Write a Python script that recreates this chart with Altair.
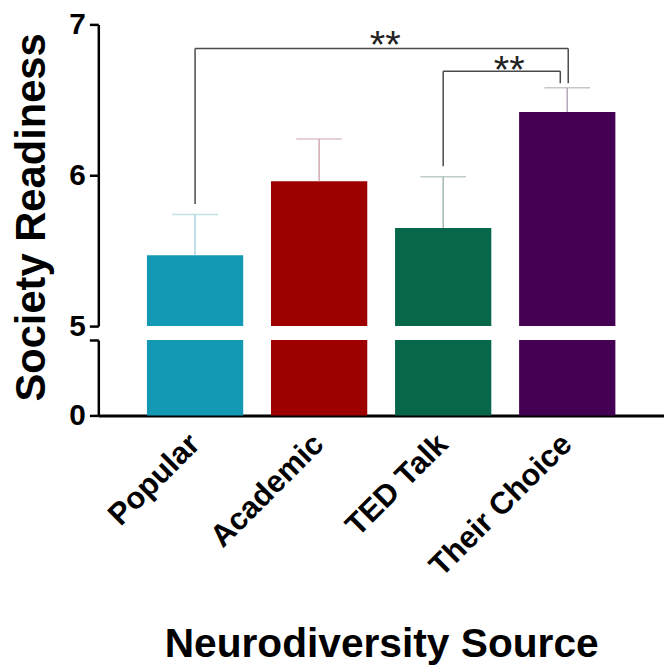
import altair as alt
import pandas as pd

# ---- data ----
categories = ["Popular", "Academic", "TED Talk", "Their Choice"]
means = [5.47, 5.96, 5.65, 6.42]
err_tops = [5.74, 6.24, 5.99, 6.58]
bar_colors = ["#1499b4", "#9e0000", "#07674a", "#440052"]
err_colors = ["#a8d6dd", "#cfaab0", "#a3b8b0", "#b5a9b8"]
top_ticks = [5, 6, 7]
bottom_ticks = [0, 5]

# significance brackets
br_left = ["Popular", "TED Talk"]
br_right = ["Their Choice", "Their Choice"]
br_left_bottom = [5.81, 6.06]
br_top = [6.84, 6.69]
br_right_bottom = [6.61, 6.61]
br_right_shift = [1, -7]
star_label = ["**", "**"]
star_anchor = ["Academic", "TED Talk"]
star_y = [6.78, 6.61]

FONT = "Liberation Sans"
W = 570
H_TOP = 304
H_BOT = 76

df = pd.DataFrame({
    "source": categories,
    "mean": means,
    "err": err_tops,
    "ecol": err_colors,
})

xscale = alt.Scale(domain=categories, paddingInner=0.224, paddingOuter=0.392)
color = alt.Color("source:N", scale=alt.Scale(domain=categories, range=bar_colors), legend=None)

# ---------------- upper segment (5 - 7) ----------------
ytop = alt.Scale(domain=[5, 7], nice=False, zero=False)
yaxis_top = alt.Axis(
    values=top_ticks, labelExpr="'' + round(datum.value)",
    title="Society Readiness", titleFontSize=42, titleFont=FONT,
    titleFontWeight="bold", titleColor="black", titleY=194, titlePadding=16,
    labelFontSize=30, labelFont=FONT, labelFontWeight="bold", labelColor="black",
    labelPadding=4, labelOverlap=False,
    tickSize=9, tickWidth=2.5, tickColor="black",
    domainColor="black", domainWidth=2.5, grid=False,
)
xnone = alt.X("source:N", sort=categories, scale=xscale, axis=None)

base_top = alt.Chart(df)
bars_top = base_top.mark_bar().encode(
    x=xnone,
    y=alt.Y("mean:Q", scale=ytop, axis=yaxis_top),
    y2=alt.datum(5),
    color=color,
)
err_line = base_top.mark_rule(strokeWidth=1.5).encode(
    x=xnone, y=alt.Y("mean:Q"), y2="err:Q",
    color=alt.Color("ecol:N", scale=None),
)
err_cap = base_top.mark_tick(size=46, thickness=1.5).encode(
    x=xnone, y=alt.Y("err:Q"),
    color=alt.Color("ecol:N", scale=None),
)

layers = [bars_top, err_line, err_cap]
for i in range(len(br_left)):
    bdf = pd.DataFrame({
        "l": [br_left[i]], "r": [br_right[i]], "lb": [br_left_bottom[i]],
        "t": [br_top[i]], "rb": [br_right_bottom[i]],
    })
    bb = alt.Chart(bdf)
    sh = br_right_shift[i]
    layers.append(bb.mark_rule(color="#4a4a4a", strokeWidth=1.5).encode(
        x=alt.X("l:N", sort=categories, scale=xscale, axis=None), y="lb:Q", y2="t:Q"))
    layers.append(bb.mark_rule(color="#4a4a4a", strokeWidth=1.5, x2Offset=sh).encode(
        x=alt.X("l:N", sort=categories, scale=xscale, axis=None), x2="r:N", y="t:Q"))
    layers.append(bb.mark_rule(color="#4a4a4a", strokeWidth=1.5, xOffset=sh).encode(
        x=alt.X("r:N", sort=categories, scale=xscale, axis=None), y="rb:Q", y2="t:Q"))

sdf = pd.DataFrame({"anchor": star_anchor, "y": star_y, "label": star_label})
stars = alt.Chart(sdf).mark_text(
    font=FONT, fontSize=40, color="#222222", baseline="alphabetic", align="center", xOffset=18,
).encode(
    x=alt.X("anchor:N", sort=categories, scale=xscale, axis=None, bandPosition=1),
    y="y:Q", text="label:N",
)
layers.append(stars)

upper = alt.layer(*layers).properties(width=W, height=H_TOP)

# ---------------- lower segment (0 - 5) ----------------
ybot = alt.Scale(domain=[0, 5], nice=False, zero=True)
yaxis_bot = alt.Axis(
    values=bottom_ticks, labelExpr="datum.value == 0 ? '0' : ''", title=None,
    labelFontSize=30, labelFont=FONT, labelFontWeight="bold", labelColor="black",
    labelPadding=4, labelOverlap=False,
    tickSize=9, tickWidth=2.5, tickColor="black",
    domainColor="black", domainWidth=2.5, grid=False,
)
xaxis_bot = alt.Axis(
    title="Neurodiversity Source", titleFontSize=41, titleFont=FONT, titleFontWeight="bold",
    titleColor="black", titlePadding=44,
    labelAngle=-45, labelAlign="right", labelBaseline="middle", labelPadding=24,
    labelFontSize=31, labelFont=FONT, labelFontWeight="bold", labelColor="black",
    labelLimit=500, labelOverlap=False,
    ticks=False, domainColor="black", domainWidth=3,
)
lower = alt.Chart(df).mark_bar().encode(
    x=alt.X("source:N", sort=categories, scale=xscale, axis=xaxis_bot),
    y=alt.Y("mean:Q", scale=ybot, axis=yaxis_bot),
    y2=alt.datum(0),
    color=color,
).transform_calculate(mean="5").properties(width=W, height=H_BOT)

chart = alt.vconcat(upper, lower, spacing=14, bounds="flush").resolve_scale(
    y="independent", color="independent"
).properties(
    padding={"left": 2, "top": -1, "right": 0, "bottom": 0},
    background="white",
).configure_view(stroke=None)

chart.save("out.html", embed_options={"renderer": "svg", "actions": False})
